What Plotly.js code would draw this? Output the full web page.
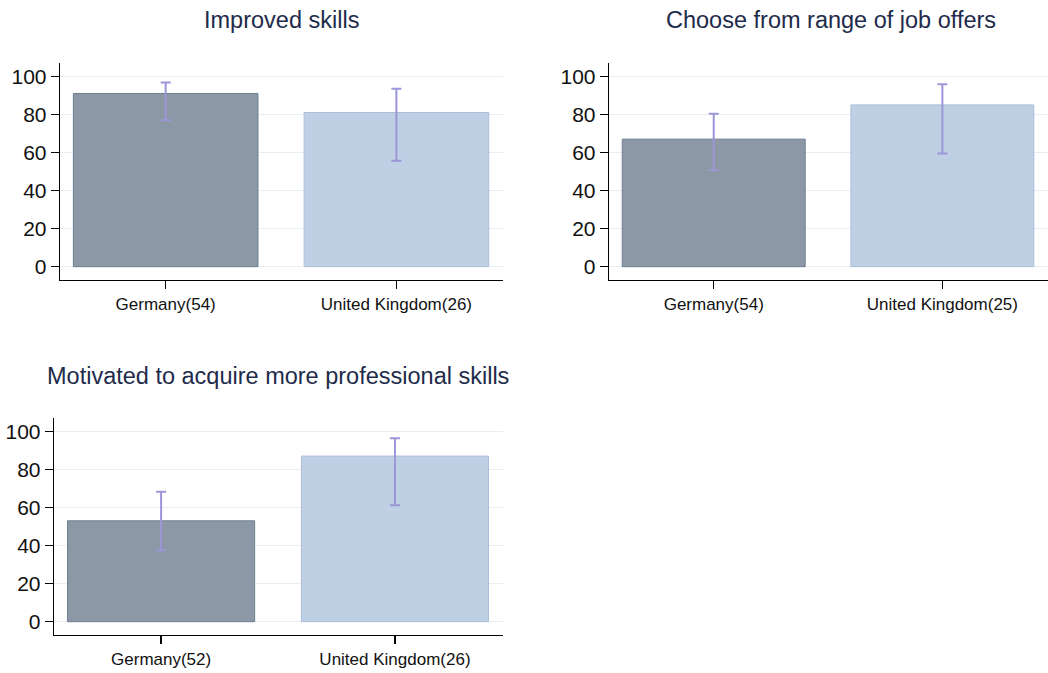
<!DOCTYPE html>
<html>
<head>
<meta charset="utf-8">
<script src="https://cdn.plot.ly/plotly-3.0.1.min.js"></script>
<style>html,body{margin:0;padding:0;background:#fff;}#chart{width:1048px;height:673px;}</style>
</head>
<body>
<div id="chart"></div>
<script>
// Panel titles
const panelTitles = ["Improved skills", "Choose from range of job offers", "Motivated to acquire more professional skills"];
// Category labels per panel
const cats1 = ["Germany(54)", "United Kingdom(26)"];
const cats2 = ["Germany(54)", "United Kingdom(25)"];
const cats3 = ["Germany(52)", "United Kingdom(26)"];
// Bar values (percent)
const vals1 = [91, 81];
const vals2 = [67, 85];
const vals3 = [53, 87];
// Upper / lower confidence limits
const hi1 = [96.8, 93.5];
const lo1 = [76.9, 55.7];
const hi2 = [80.4, 95.8];
const lo2 = [50.8, 59.4];
const hi3 = [68.3, 96.4];
const lo3 = [37.5, 61.1];
const yTicks = [0, 20, 40, 60, 80, 100];

const fillColors = ["#8c98a5", "#bfcfe4"];
const lineColors = ["#6f7f90", "#abbfda"];
const errColor = "#9c96d8";

function mkTrace(cats, vals, hi, lo, xa, ya) {
  return {
    type: "bar",
    x: cats,
    y: vals,
    xaxis: xa,
    yaxis: ya,
    width: 0.8,
    marker: {color: fillColors, line: {color: lineColors, width: 1}},
    error_y: {
      type: "data",
      symmetric: false,
      array: hi.map((h, i) => h - vals[i]),
      arrayminus: lo.map((l, i) => vals[i] - l),
      color: errColor,
      thickness: 2,
      width: 5
    },
    hoverinfo: "skip",
    showlegend: false
  };
}

const data = [
  mkTrace(cats1, vals1, hi1, lo1, "x", "y"),
  mkTrace(cats2, vals2, hi2, lo2, "x2", "y2"),
  mkTrace(cats3, vals3, hi3, lo3, "x3", "y3")
];

function xAx(dom, anchor) {
  return {
    domain: dom, anchor: anchor, type: "category",
    range: [-0.458, 1.462],
    showline: true, linecolor: "#000", linewidth: 1.3,
    ticks: "outside", ticklen: 8, tickcolor: "#000", tickwidth: 1.3,
    showgrid: false, zeroline: false,
    tickfont: {family: "Arial, Liberation Sans, sans-serif", size: 17, color: "#111"},
    fixedrange: true
  };
}
function yAx(dom, anchor) {
  return {
    domain: dom, anchor: anchor,
    range: [-7, 107],
    tickvals: yTicks,
    showline: true, linecolor: "#000", linewidth: 1.3,
    ticks: "outside", ticklen: 8, tickcolor: "#000", tickwidth: 1.3,
    showgrid: true, gridcolor: "#e8eef4", gridwidth: 1.5,
    zeroline: false,
    tickfont: {family: "Arial, Liberation Sans, sans-serif", size: 21, color: "#111"},
    fixedrange: true
  };
}

const W = 1048, H = 673;
const titleFont = {family: "Arial, Liberation Sans, sans-serif", size: 23.5, color: "#1e2b4a"};

const layout = {
  width: W, height: H,
  margin: {l: 0, r: 0, t: 0, b: 0},
  paper_bgcolor: "#fff", plot_bgcolor: "#fff",
  bargap: 0.2,
  xaxis: xAx([60 / W, 503 / W], "y"),
  yaxis: yAx([1 - 280 / H, 1 - 63 / H], "x"),
  xaxis2: xAx([609 / W, 1], "y2"),
  yaxis2: yAx([1 - 280 / H, 1 - 63 / H], "x2"),
  xaxis3: xAx([54 / W, 503 / W], "y3"),
  yaxis3: yAx([1 - 635 / H, 1 - 418 / H], "x3"),
  annotations: [
    {text: panelTitles[0], x: 281 / W, y: 1 - 20 / H, xref: "paper", yref: "paper", xanchor: "center", yanchor: "middle", showarrow: false, font: titleFont},
    {text: panelTitles[1], x: 831 / W, y: 1 - 20 / H, xref: "paper", yref: "paper", xanchor: "center", yanchor: "middle", showarrow: false, font: titleFont},
    {text: panelTitles[2], x: 278 / W, y: 1 - 376 / H, xref: "paper", yref: "paper", xanchor: "center", yanchor: "middle", showarrow: false, font: titleFont}
  ]
};

Plotly.newPlot("chart", data, layout, {displayModeBar: false, staticPlot: true});
</script>
</body>
</html>
